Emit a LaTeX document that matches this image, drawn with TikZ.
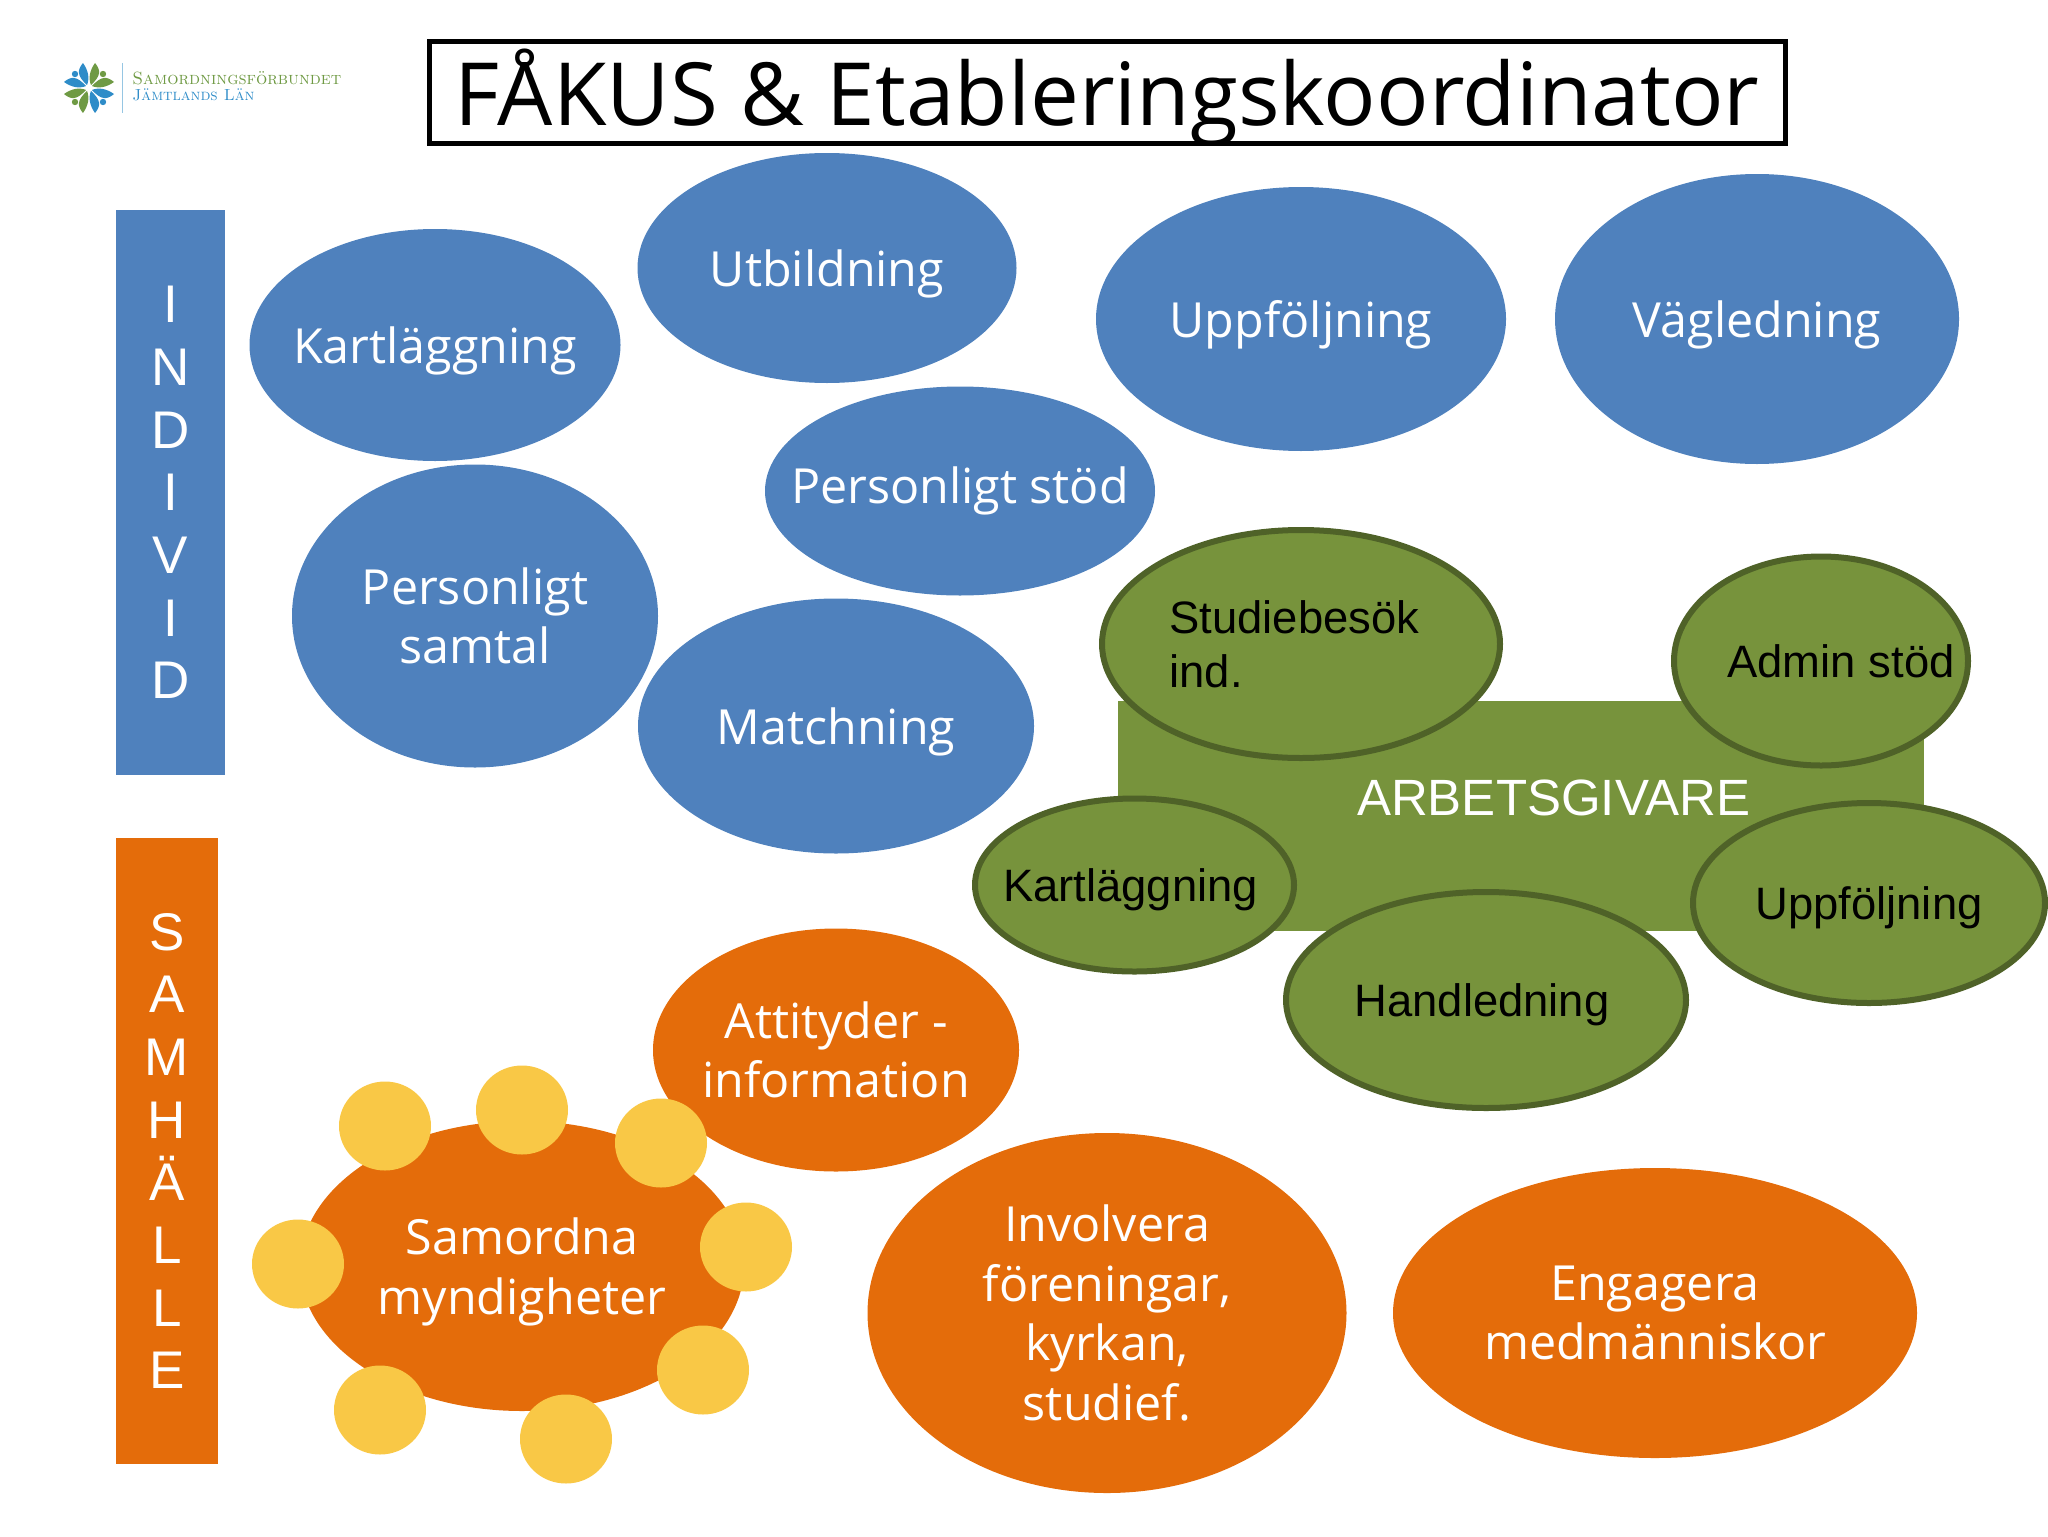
\documentclass[tikz,border=0pt]{standalone}
\usepackage{fontspec}
\setsansfont{Open Sans}
\newfontfamily\arialfont{Liberation Sans}
\usetikzlibrary{shapes.geometric}
\definecolor{indblue}{HTML}{4F81BD}
\definecolor{samorange}{HTML}{E46C0A}
\definecolor{arbgreen}{HTML}{77933C}
\definecolor{arbedge}{HTML}{4F6228}
\definecolor{sunyellow}{HTML}{F9C846}
\definecolor{logogreen}{HTML}{6F9A44}
\definecolor{logoblue}{HTML}{2E8CC8}
\tikzset{
  oval/.style 2 args={ellipse,inner sep=-30pt,minimum width=#1*0.5pt,minimum height=#2*0.5pt,align=center},
  oneline/.style={text depth=0pt},
  indoval/.style={fill=indblue,text=white,font=\sffamily\fontsize{24.2}{29.7}\selectfont},
  samoval/.style={fill=samorange,text=white,font=\sffamily\fontsize{24.2}{29.7}\selectfont},
  arboval/.style={fill=arbgreen,draw=arbedge,line width=3pt,text=black,font=\arialfont\fontsize{22.7}{27}\selectfont},
  sidebar/.style 2 args={inner sep=0pt,minimum width=#1*0.5pt,minimum height=#2*0.5pt,align=center,text=white,font=\arialfont\fontsize{26.5}{31.35}\selectfont},
  sun/.style={ellipse,inner sep=0pt,minimum width=46pt,minimum height=44.5pt,fill=sunyellow},
}
\begin{document}
\begin{tikzpicture}[x=0.5pt,y=-0.5pt]
  \useasboundingbox (0,0) rectangle (2048,1536);
  % logotyp
  \foreach \a/\c in {0/logoblue,90/logogreen,180/logoblue,270/logogreen}{
    \begin{scope}[shift={(89,88)},rotate=\a]
      \fill[\c] (-2,-3) .. controls (-12,-12) and (-12,-18) .. (-6,-25) .. controls (-1,-18) and (1,-10) .. (-2,-3);
    \end{scope}
    \begin{scope}[shift={(89,88)},rotate=\a+90]
      \fill[\c] (2,-3) .. controls (12,-12) and (12,-18) .. (6,-25) .. controls (1,-18) and (-1,-10) .. (2,-3);
    \end{scope}
  }
  \foreach \x/\y/\c in {75/74/logoblue,103/74/logogreen,75/102/logogreen,103/102/logoblue}
    \fill[\c] (\x,\y) circle (3.2);
  \draw[logoblue!50,line width=0.5pt] (122,63) -- (122,113);
  \node[anchor=base west,inner sep=0pt,text=logogreen,font=\rmfamily\scshape\fontsize{8.85}{9}\selectfont] (logotop) at (132,84) {Samordningsförbundet};
  \node[anchor=base west,inner sep=0pt,text=logoblue,font=\rmfamily\scshape\fontsize{8}{9}\selectfont] (logobot) at (132,100) {Jämtlands Län};
  % rubrik
  \node[draw=black,line width=2.5pt,inner sep=0pt,minimum width=678pt,minimum height=51pt,text depth=5pt,font=\sffamily\fontsize{43.6}{50}\selectfont] (title) at (1107,92.5) {FÅKUS \& Etableringskoordinator};
  % sidorutor
  \node[sidebar={109}{565},fill=indblue] (individ) at (170.5,492.5) {I\\N\\D\\I\\V\\I\\D};
  \node[sidebar={102}{626},fill=samorange] (samhalle) at (167,1151) {S\\A\\M\\H\\Ä\\L\\L\\E};
  % individ
  \node[oval={371}{232},indoval,oneline] (kartl) at (435,345) {Kartläggning};
  \node[oval={379}{230},indoval,oneline] (utb) at (827,268) {Utbildning};
  \node[oval={410}{264},indoval,oneline] (uppf) at (1301,319) {Uppföljning};
  \node[oval={404}{290},indoval,oneline] (vagl) at (1757,319) {Vägledning};
  \node[oval={390}{209},indoval] (pstod) at (960,491) {Personligt stöd};
  \node[oval={366}{303},indoval] (psamtal) at (475,616) {Personligt\\samtal};
  \node[oval={396}{255},indoval,oneline] (match) at (836,726) {Matchning};
  % arbetsgivare
  \node[fill=arbgreen,inner sep=0pt,minimum width=403pt,minimum height=115pt,text=white,font=\arialfont\fontsize{25.5}{30}\selectfont] (arb) at (1521,816) {\hspace*{32.6pt}\raisebox{18pt}{ARBETSGIVARE}};
  \node[oval={398}{228},arboval,align=left] (stud) at (1301,644) {Studiebesök\hspace*{6.6pt}\\ind.};
  \node[oval={294}{209},arboval] (admin) at (1821,661) {\hspace*{20pt}Admin stöd};
  \node[oval={319}{173},arboval,oneline] (akartl) at (1134.5,885) {Kartläggning\hspace*{4pt}};
  \node[oval={400}{216},arboval,oneline] (handl) at (1486,1000) {Handledning\hspace*{4pt}};
  \node[oval={352}{200},arboval,oneline] (auppf) at (1869,903) {Uppföljning};
  % samhälle
  \node[oval={366}{243},samoval] (attit) at (836,1050) {Attityder -\\information};
  \node[oval={444}{290},samoval,oneline] (samord) at (522,1266) {Samordna\\myndigheter};
  \node[oval={479}{360},samoval] (invol) at (1107,1313) {Involvera\\föreningar,\\kyrkan,\\studief.};
  \node[oval={524}{290},samoval] (engag) at (1655,1313) {Engagera\\medmänniskor};
  % gula cirklar runt samordna
  \foreach \n/\x/\y in {a/385/1126,b/522/1110,c/661/1143,d/746/1247,e/703/1370,f/566/1439,g/380/1410,h/298/1264}
    \node[sun] (sun\n) at (\x,\y) {};
\end{tikzpicture}
\end{document}
